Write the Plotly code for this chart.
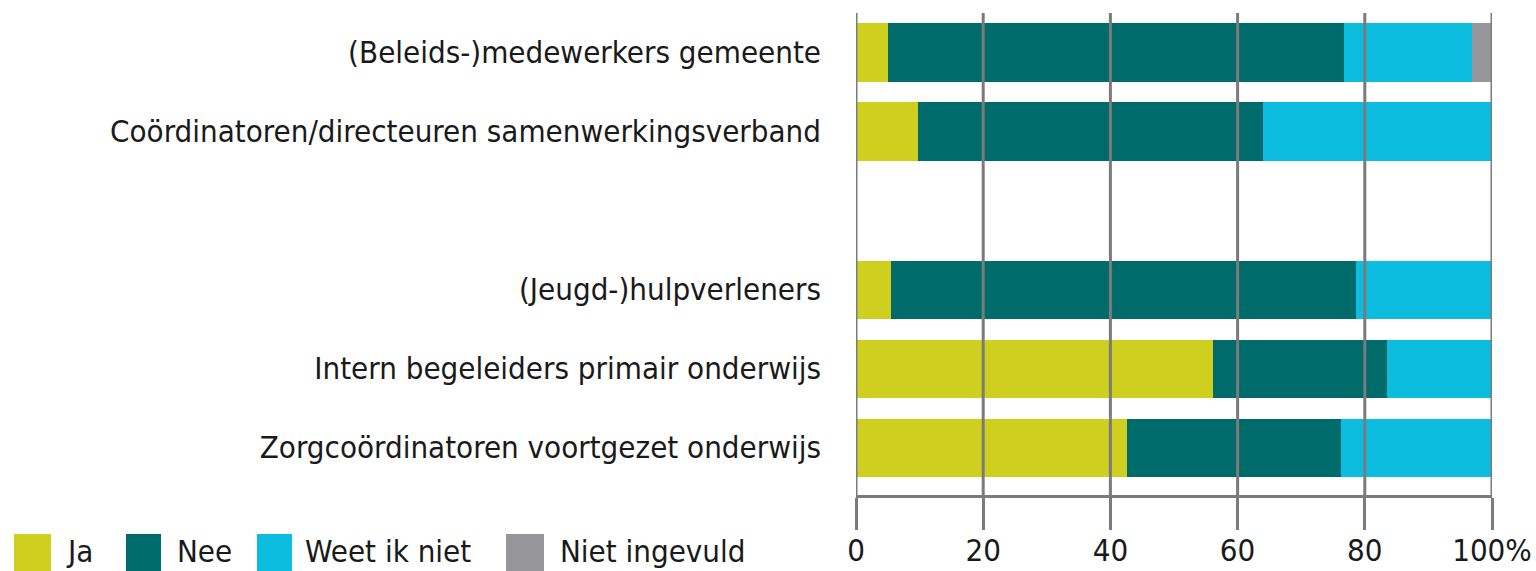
import plotly.graph_objects as go

# categories top to bottom; the blank one is the gap between the two groups
CATEGORIES = [
    "(Beleids-)medewerkers gemeente",
    "Coördinatoren/directeuren samenwerkingsverband",
    " ",
    "(Jeugd-)hulpverleners",
    "Intern begeleiders primair onderwijs",
    "Zorgcoördinatoren voortgezet onderwijs",
]

JA = [5.0, 9.7, None, 5.5, 56.1, 42.6]
NEE = [71.7, 54.3, None, 73.1, 27.4, 33.7]
WEET_IK_NIET = [20.2, 36.0, None, 21.4, 16.5, 23.7]
NIET_INGEVULD = [3.1, 0, None, 0, 0, 0]

SERIES = [
    ("Ja", JA, "#cfcf1f"),
    ("Nee", NEE, "#006b6b"),
    ("Weet ik niet", WEET_IK_NIET, "#0dbde0"),
    ("Niet ingevuld", NIET_INGEVULD, "#97979b"),
]

TICK_VALS = [0, 20, 40, 60, 80, 100]
TICK_TEXT = ["0", "20", "40", "60", "80", "100%"]

FONT = "DejaVu Sans Condensed, Liberation Sans Narrow, sans-serif"
FONT_SIZE = 31
GRID = "#7b7b7b"
W, H = 1536, 571
M = dict(l=856, r=44, t=13, b=76)

# legend placement in pixels (swatch left, swatch right, text left)
LEGEND_X = [(14, 51, 64), (126, 161, 175), (257, 292, 303), (506, 544, 558)]


def px_x(px):
    return (px - M["l"]) / (W - M["l"] - M["r"])


def px_y(py):
    return (H - M["b"] - py) / (H - M["t"] - M["b"])


fig = go.Figure()
for name, vals, color in SERIES:
    fig.add_trace(
        go.Bar(
            y=CATEGORIES,
            x=vals,
            name=name,
            orientation="h",
            marker=dict(color=color, line=dict(width=0)),
            showlegend=False,
        )
    )

# gridlines sit on top of the bars in the original
for v in TICK_VALS:
    fig.add_shape(
        type="line", xref="x", yref="paper", x0=v, x1=v, y0=0, y1=1,
        line=dict(color=GRID, width=3), layer="above",
    )

# hand-drawn legend with large swatches
for (name, _, color), (sx0, sx1, tx) in zip(SERIES, LEGEND_X):
    fig.add_shape(
        type="rect", xref="paper", yref="paper",
        x0=px_x(sx0), x1=px_x(sx1), y0=px_y(534), y1=px_y(575),
        fillcolor=color, line=dict(width=0), layer="above",
    )
    fig.add_annotation(
        text=name, xref="paper", yref="paper", x=px_x(tx), y=px_y(551),
        xanchor="left", yanchor="middle", showarrow=False,
        font=dict(size=FONT_SIZE, color="#1a1a1a", family=FONT),
    )

fig.update_layout(
    width=W,
    height=H,
    margin=M,
    barmode="stack",
    bargap=0.265,
    plot_bgcolor="white",
    paper_bgcolor="white",
    font=dict(family=FONT, size=FONT_SIZE, color="#1a1a1a"),
    showlegend=False,
)
fig.update_xaxes(
    range=[0, 100],
    tickvals=TICK_VALS,
    ticktext=TICK_TEXT,
    showgrid=False,
    zeroline=False,
    showline=True,
    linecolor=GRID,
    linewidth=3,
    ticks="outside",
    ticklen=32,
    tickwidth=3,
    tickcolor=GRID,
    ticklabelstandoff=-6,
    automargin=False,
)
fig.update_yaxes(
    categoryorder="array",
    categoryarray=CATEGORIES,
    range=[5.6, -0.5],
    showgrid=False,
    zeroline=False,
    showline=False,
    ticks="",
    ticklabelstandoff=34,
    automargin=False,
)

# drop the default page margin so the figure sits at the window's corner
fig.write_html(
    "out.html",
    config={"displayModeBar": False},
    post_script="document.body.style.margin='0';document.body.style.overflow='hidden';",
)
